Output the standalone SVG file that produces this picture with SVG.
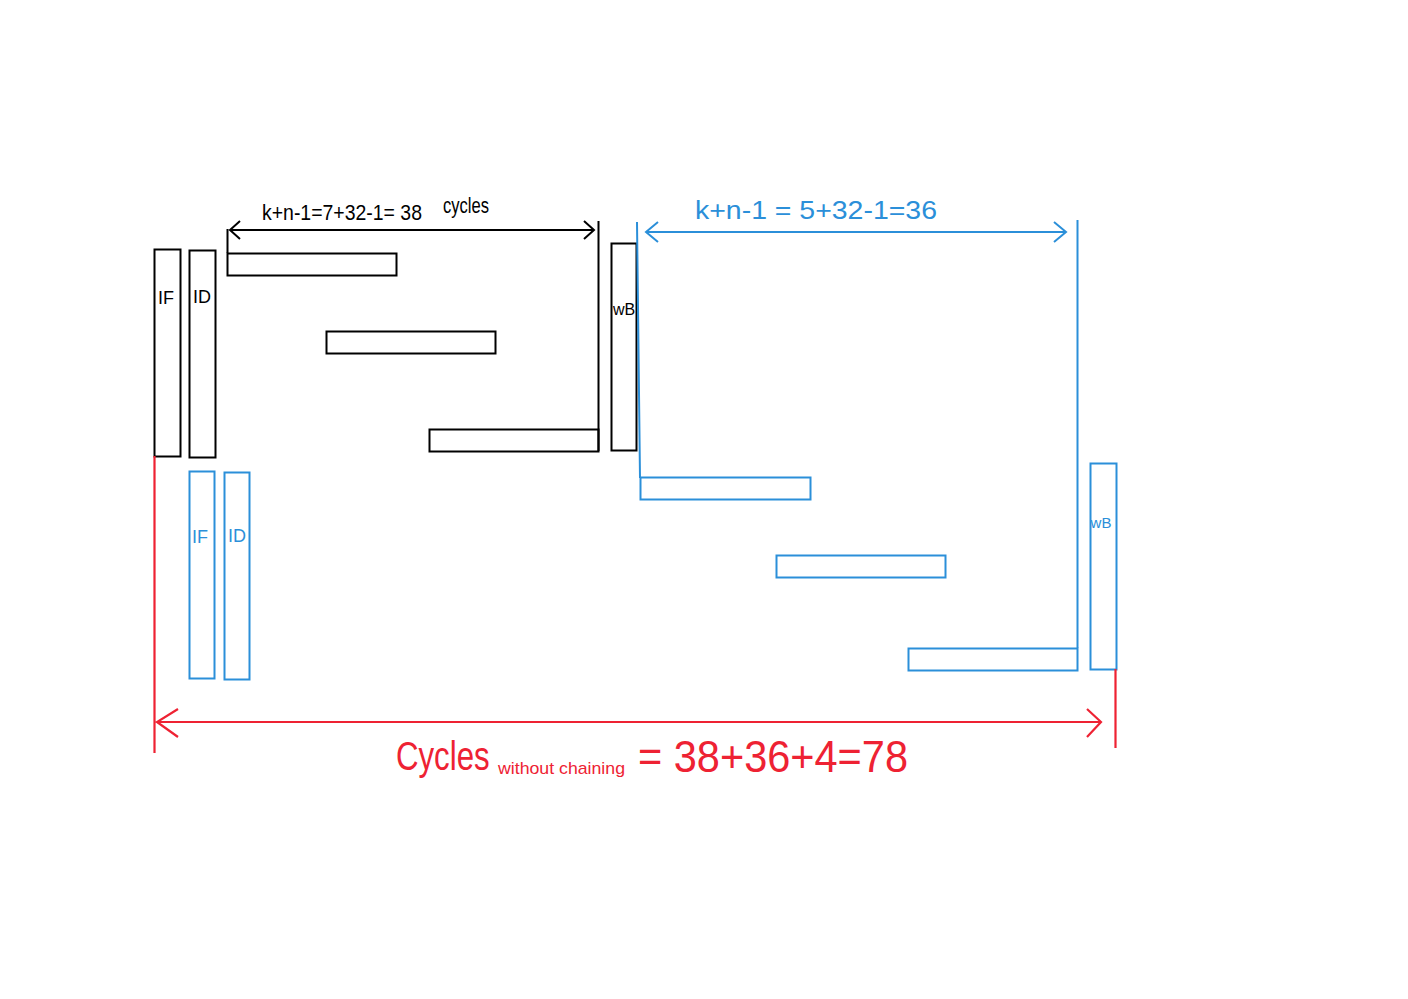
<svg xmlns="http://www.w3.org/2000/svg" width="1408" height="999" viewBox="0 0 1408 999">
<style>
.k{fill:none;stroke:#000;stroke-width:2}
.b{fill:none;stroke:#2b8fd9;stroke-width:2}
.r{fill:none;stroke:#ee2233;stroke-width:2.2}
.t{font-family:"Liberation Sans",sans-serif}
</style>
<rect width="1408" height="999" fill="#fff"/>
<g id="black-if"><rect class="k" x="154.5" y="249.5" width="26" height="207"/><text class="t" x="166" y="304" font-size="18" text-anchor="middle">IF</text></g>
<g id="black-id"><rect class="k" x="189.5" y="250.5" width="26" height="207"/><text class="t" x="202" y="303" font-size="18" text-anchor="middle">ID</text></g>
<g id="black-bar1"><rect class="k" x="227.5" y="253.5" width="169" height="22"/></g>
<g id="black-bar2"><rect class="k" x="326.5" y="331.5" width="169" height="22"/></g>
<g id="black-bar3"><rect class="k" x="429.5" y="429.5" width="169" height="22"/></g>
<g id="black-wb"><rect class="k" x="611.5" y="243.5" width="25" height="207"/><text class="t" x="624" y="315" font-size="16" text-anchor="middle">wB</text></g>
<g id="blue-if"><rect class="b" x="189.5" y="471.5" width="25" height="207"/><text class="t" x="200" y="543" font-size="18" text-anchor="middle" fill="#2b8fd9">IF</text></g>
<g id="blue-id"><rect class="b" x="224.5" y="472.5" width="25" height="207"/><text class="t" x="237" y="542" font-size="18" text-anchor="middle" fill="#2b8fd9">ID</text></g>
<g id="blue-bar1"><rect class="b" x="640.5" y="477.5" width="170" height="22"/></g>
<g id="blue-bar2"><rect class="b" x="776.5" y="555.5" width="169" height="22"/></g>
<g id="blue-bar3"><rect class="b" x="908.5" y="648.5" width="169" height="22"/></g>
<g id="blue-wb"><rect class="b" x="1090.5" y="463.5" width="26" height="206"/><text class="t" x="1101" y="528" font-size="15" text-anchor="middle" fill="#2b8fd9">wB</text></g>
<g id="connectors">
<path class="k" d="M227.5 229V253M598.5 221V451M230 230H594M240 221L230 230L240 239M584 221L594 230L584 239"/>
<path class="b" d="M637 222L640 478M1077.5 220V648M646 232H1066M658 222L646 232L658 242M1054 222L1066 232L1054 242"/>
<path class="r" d="M154.5 456V753M1115.5 669V748M157 722H1101M178 709L157 722L178 737M1087 709L1101 722L1087 737"/>
</g>
<g id="labels">
<text class="t" x="262" y="220" font-size="22" textLength="160" lengthAdjust="spacingAndGlyphs">k+n-1=7+32-1= 38</text>
<text class="t" x="443" y="213" font-size="22" textLength="46" lengthAdjust="spacingAndGlyphs">cycles</text>
<text class="t" x="695" y="219" font-size="26" fill="#2b8fd9" textLength="242" lengthAdjust="spacingAndGlyphs">k+n-1 = 5+32-1=36</text>
<text class="t" transform="translate(396 770) scale(0.78 1)" font-size="40" fill="#ee2233">Cycles</text>
<text class="t" x="498" y="774" font-size="17" fill="#ee2233" textLength="127" lengthAdjust="spacingAndGlyphs">without chaining</text>
<text class="t" x="638" y="772" font-size="44" fill="#ee2233" textLength="270" lengthAdjust="spacingAndGlyphs">= 38+36+4=78</text>
</g>
</svg>
